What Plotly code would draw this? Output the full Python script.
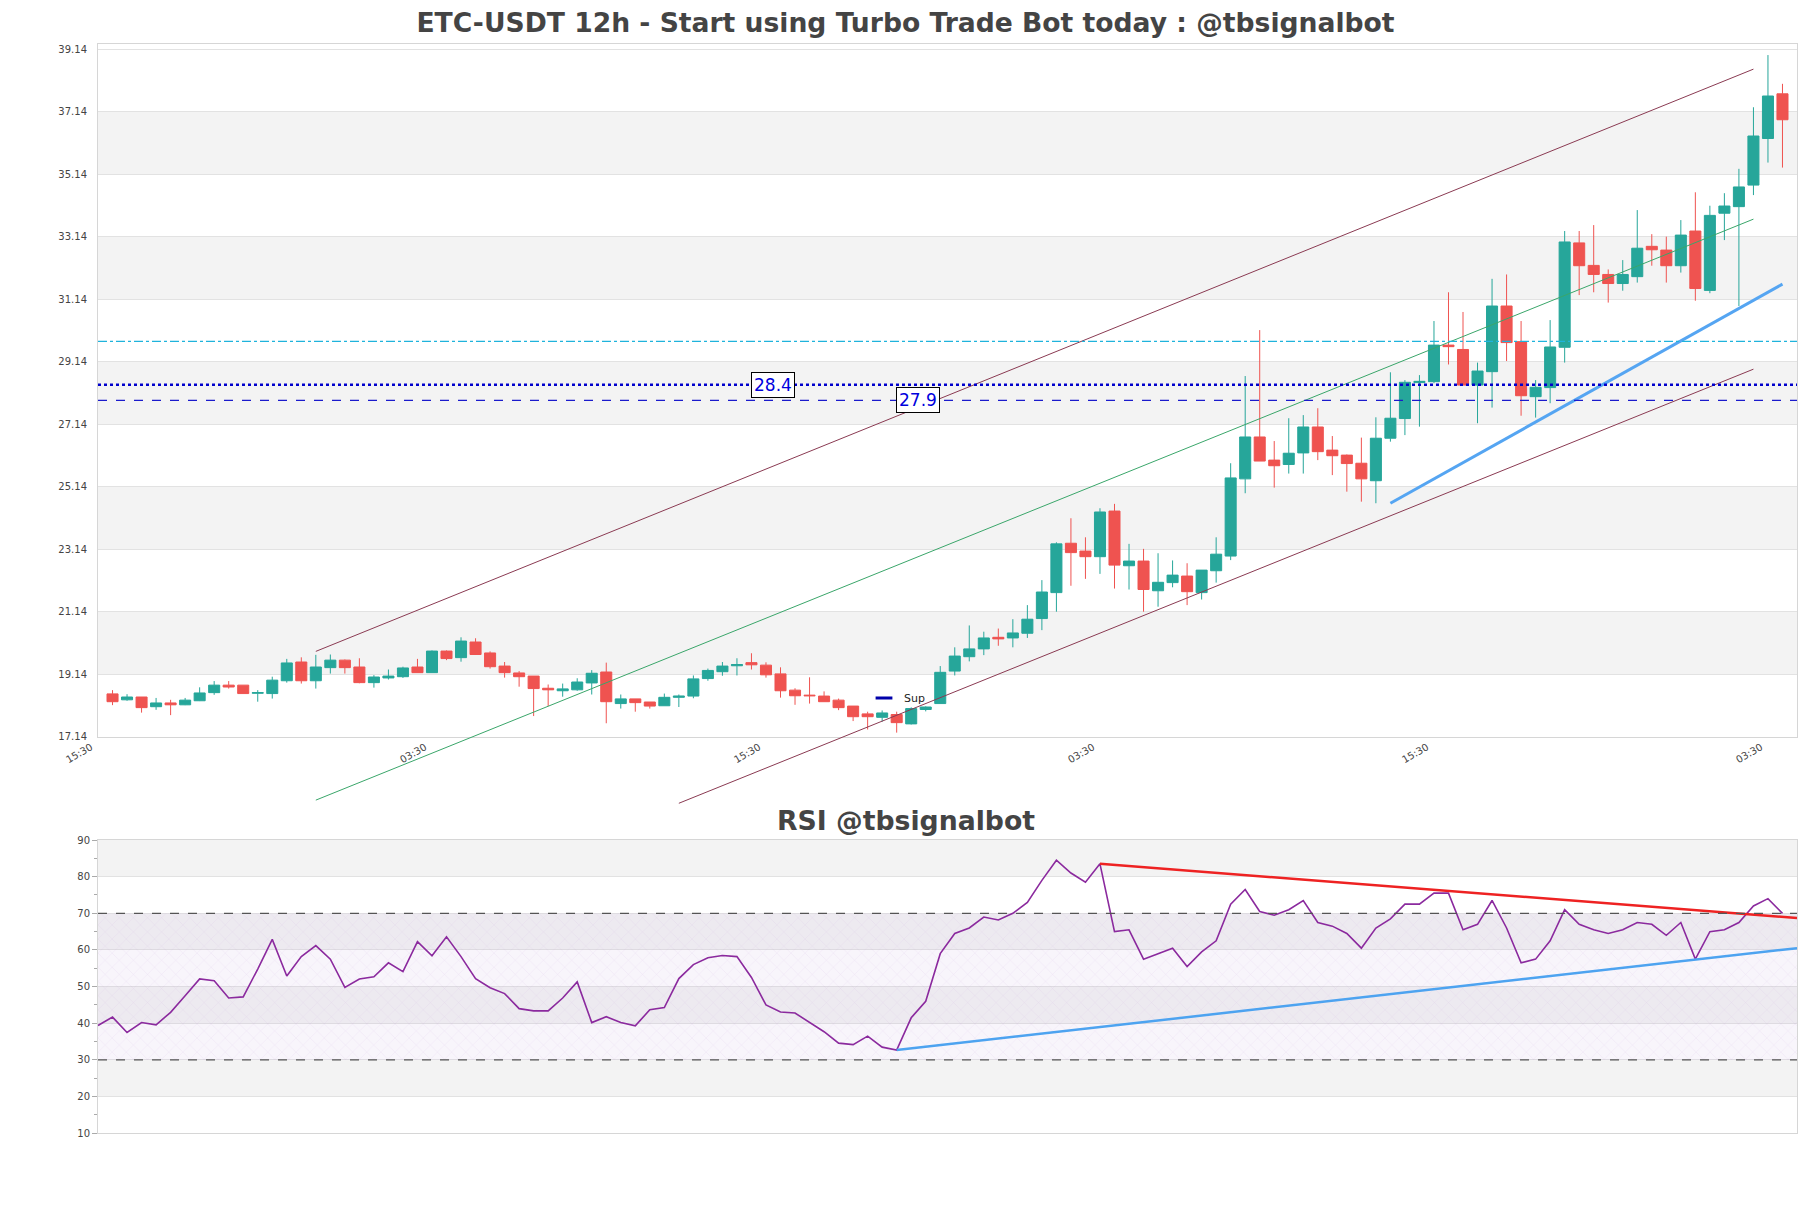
import plotly.graph_objects as go

# ---------------- data ----------------
candle_idx = list(range(116))
opens = [18.51,18.32,18.41,18.10,18.22,18.16,18.29,18.55,18.79,18.79,18.53,18.52,18.93,19.53,18.93,19.35,19.59,19.37,18.87,19.02,
         19.06,19.37,19.19,19.88,19.67,20.17,19.82,19.40,19.18,19.08,18.69,18.61,18.64,18.86,19.21,18.20,18.35,18.25,18.13,18.40,
         18.44,19.00,19.22,19.41,19.51,19.43,19.15,18.63,18.47,18.44,18.31,18.12,17.87,17.76,17.85,17.55,18.01,18.20,19.24,19.70,
         19.95,20.32,20.30,20.45,20.92,21.75,23.33,23.08,22.90,24.36,22.61,22.76,21.81,22.07,22.28,21.75,22.45,22.92,25.39,26.73,
         25.99,25.85,26.22,27.05,26.31,26.15,25.89,25.33,26.69,27.32,28.47,28.50,29.67,29.53,28.39,28.82,30.92,29.78,28.02,28.31,
         29.60,32.94,32.22,31.93,31.64,31.86,32.83,32.71,32.21,33.32,31.42,33.89,34.10,34.79,36.28,37.71]
highs = [18.63,18.50,18.41,18.38,18.32,18.38,18.72,18.92,18.92,18.79,18.63,19.06,19.63,19.68,19.76,19.77,19.61,19.65,19.11,19.29,
         19.38,19.63,19.90,19.90,20.32,20.29,19.87,19.53,19.24,19.08,18.81,18.84,19.01,19.27,19.51,18.49,18.35,18.25,18.52,18.49,
         19.10,19.32,19.53,19.65,19.81,19.52,19.36,18.69,19.04,18.59,18.36,18.12,17.94,17.98,17.94,18.08,18.11,19.40,20.00,20.70,
         20.50,20.60,20.90,21.35,22.15,23.36,24.13,23.52,24.45,24.59,23.31,23.15,23.01,22.78,22.69,22.47,23.52,25.89,28.68,30.15,
         26.60,27.33,27.43,27.65,26.76,26.17,26.71,27.36,28.80,28.55,28.71,30.44,31.36,30.73,29.11,31.79,31.93,30.44,28.55,30.47,
         33.32,33.32,33.51,32.09,32.39,33.99,33.22,33.14,33.67,34.56,34.13,34.53,35.31,37.28,38.95,38.03]
lows = [18.15,18.29,17.91,18.00,17.83,18.15,18.28,18.48,18.68,18.52,18.26,18.36,18.87,18.84,18.68,19.16,19.16,18.85,18.71,18.97,
        19.02,19.19,19.19,19.59,19.54,19.76,19.32,19.03,18.74,17.80,18.12,18.42,18.61,18.49,17.57,18.04,17.94,18.04,18.13,18.09,
        18.37,18.93,19.09,19.10,19.29,19.03,18.39,18.16,18.20,18.26,17.99,17.64,17.37,17.62,17.27,17.53,17.95,18.20,19.10,19.55,
        19.75,20.05,20.00,20.30,20.55,21.14,21.97,22.19,22.35,21.88,21.85,21.14,21.30,21.92,21.35,21.53,22.07,22.79,24.93,25.96,
        25.11,25.56,25.56,25.99,25.51,24.98,24.66,24.61,26.58,26.79,27.06,28.45,29.05,28.39,27.17,27.67,29.16,27.41,27.35,27.81,
        29.11,31.27,31.36,31.03,31.41,31.67,32.21,31.67,31.99,31.09,31.33,33.03,30.92,34.47,35.51,35.35]
closes = [18.26,18.41,18.07,18.22,18.16,18.31,18.54,18.79,18.73,18.52,18.55,18.95,19.50,18.93,19.37,19.59,19.35,18.87,19.05,19.08,
          19.34,19.19,19.88,19.64,20.20,19.77,19.38,19.19,19.06,18.68,18.64,18.67,18.89,19.17,18.26,18.35,18.23,18.12,18.40,18.44,
          18.99,19.26,19.40,19.45,19.44,19.12,18.61,18.45,18.45,18.26,18.07,17.78,17.78,17.90,17.59,18.04,18.09,19.20,19.72,19.95,
          20.30,20.27,20.46,20.90,21.77,23.31,23.03,22.90,24.33,22.63,22.76,21.85,22.08,22.31,21.78,22.47,22.98,25.42,26.73,25.96,
          25.81,26.21,27.05,26.26,26.13,25.88,25.39,26.69,27.33,28.48,28.51,29.67,29.62,28.39,28.84,30.92,29.75,28.05,28.32,29.61,
          32.97,32.21,31.93,31.64,31.93,32.77,32.72,32.21,33.19,31.48,33.82,34.12,34.73,36.36,37.64,36.88]

rsi_idx = list(range(-1, 116))
rsi = [39.4,41.7,37.5,40.2,39.6,43.0,47.5,52.1,51.6,46.9,47.2,54.8,62.9,52.9,58.2,61.2,57.5,49.8,52.1,52.7,
       56.5,54.1,62.3,58.4,63.6,58.2,52.2,49.7,48.1,44.0,43.4,43.4,46.9,51.3,40.2,41.8,40.2,39.3,43.7,44.3,
       52.2,56.0,57.9,58.5,58.2,52.5,45.0,43.1,42.8,40.2,37.7,34.6,34.2,36.5,33.5,32.7,41.5,46.0,59.0,64.5,
       66.0,69.0,68.2,70.0,73.0,79.0,84.5,81.0,78.5,83.5,65.0,65.5,57.5,59.0,60.5,55.5,59.5,62.5,72.5,76.5,
       70.5,69.5,71.0,73.5,67.5,66.5,64.5,60.5,66.0,68.5,72.5,72.5,75.5,75.5,65.5,67.0,73.5,66.0,56.5,57.5,
       62.5,71.0,67.0,65.5,64.5,65.5,67.5,67.0,64.0,67.5,57.5,65.0,65.5,67.5,72.0,74.0,70.0]

tick_vals = [-1, 22, 45, 68, 91, 114]
tick_text = ["15:30", "03:30", "15:30", "03:30", "15:30", "03:30"]

price_ticks = [17.14, 19.14, 21.14, 23.14, 25.14, 27.14, 29.14, 31.14, 33.14, 35.14, 37.14, 39.14]
price_range = [17.14, 39.32]
x_range = [-1, 116]

# channel lines (start idx, start price, end idx, end price)
channel_upper = [14, 19.87, 113, 38.50]
channel_mid = [14, 15.11, 113, 33.70]
channel_lower = [39, 15.01, 113, 28.90]
support_line = [88, 24.61, 115, 31.62]

level_cyan = 29.79
level_dot = 28.4
level_dash = 27.9
label_pos = {28.4: 45.5, 27.9: 55.5}

rsi_red = [68, 83.5, 116, 68.7]
rsi_blue = [54, 32.7, 116, 60.5]
rsi_levels = [30, 70]

# ---------------- layout geometry ----------------
OFF = 8                      # page body margin
W, H = 1811 - 2 * OFF, 1208 - 2 * OFF
ML = 98 - OFF
MR = W - (1797 - OFF)

def py(y_ref):
    return 1 - (y_ref - OFF) / H

main_dom = [py(736.7), py(43.5)]
rsi_dom = [py(1133.3), py(840)]
ghost_dom = [py(815), main_dom[1]]
span = price_range[1] - price_range[0]
ghost_lo = price_range[0] - (main_dom[0] - ghost_dom[0]) / (main_dom[1] - main_dom[0]) * span
ghost_range = [ghost_lo, price_range[1]]
plot_w = W - ML - MR

UP, DOWN = "#26a69a", "#ef5350"
BAND = "#f3f3f3"
GRID = "#e2e2e2"
FRAME = "#d6d6d6"
TICKFONT = dict(family="DejaVu Sans", size=10, color="#444")

fig = go.Figure()

fig.add_trace(go.Candlestick(
    x=candle_idx, open=opens, high=highs, low=lows, close=closes,
    increasing=dict(line=dict(color=UP, width=1), fillcolor=UP),
    decreasing=dict(line=dict(color=DOWN, width=1), fillcolor=DOWN),
    showlegend=False, xaxis="x", yaxis="y", hoverinfo="skip"))

def seg(line, color, width):
    return go.Scatter(x=[line[0], line[2]], y=[line[1], line[3]], mode="lines",
                      line=dict(color=color, width=width), showlegend=False,
                      xaxis="x", yaxis="y3", hoverinfo="skip")

fig.add_trace(seg(channel_upper, "#8a3a52", 1))
fig.add_trace(seg(channel_mid, "#3aa66a", 1))
fig.add_trace(seg(channel_lower, "#8a3a52", 1))
fig.add_trace(seg(support_line, "#55a5f2", 3))

# legend entry
fig.add_trace(go.Scatter(x=[None], y=[None], mode="markers", name="Sup",
                         marker=dict(symbol="line-ew", size=12, line=dict(color="#0000aa", width=3)),
                         xaxis="x", yaxis="y"))

# RSI hatch band
fig.add_trace(go.Scatter(x=[x_range[0], x_range[1], x_range[1], x_range[0], x_range[0]],
                         y=[rsi_levels[0], rsi_levels[0], rsi_levels[1], rsi_levels[1], rsi_levels[0]],
                         mode="lines", line=dict(width=0), fill="toself",
                         fillcolor="rgba(190,160,220,0.10)",
                         fillpattern=dict(shape="x", fgcolor="rgba(170,120,210,0.35)", size=10, solidity=0.08),
                         showlegend=False, xaxis="x2", yaxis="y2", hoverinfo="skip"))

fig.add_trace(go.Scatter(x=rsi_idx, y=rsi, mode="lines", line=dict(color="#8b2a9e", width=1.6),
                         showlegend=False, xaxis="x2", yaxis="y2", hoverinfo="skip"))
fig.add_trace(go.Scatter(x=[rsi_red[0], rsi_red[2]], y=[rsi_red[1], rsi_red[3]], mode="lines",
                         line=dict(color="#ee2222", width=2.5), showlegend=False, xaxis="x2", yaxis="y2"))
fig.add_trace(go.Scatter(x=[rsi_blue[0], rsi_blue[2]], y=[rsi_blue[1], rsi_blue[3]], mode="lines",
                         line=dict(color="#4da3f0", width=2.5), showlegend=False, xaxis="x2", yaxis="y2"))

shapes = []
for k in range(1, len(price_ticks) - 1, 2):
    shapes.append(dict(type="rect", xref="x domain", x0=0, x1=1, yref="y",
                       y0=price_ticks[k], y1=price_ticks[k + 1], fillcolor=BAND, line=dict(width=0), layer="below"))
for lo in [20, 40, 60, 80]:
    shapes.append(dict(type="rect", xref="x2 domain", x0=0, x1=1, yref="y2",
                       y0=lo, y1=lo + 10, fillcolor=BAND, line=dict(width=0), layer="below"))
shapes.append(dict(type="line", xref="x domain", x0=0, x1=1, yref="y", y0=level_cyan, y1=level_cyan,
                   line=dict(color="#1fb3dc", width=1.4, dash="dashdot")))
shapes.append(dict(type="line", xref="x domain", x0=0, x1=1, yref="y", y0=level_dot, y1=level_dot,
                   line=dict(color="#0000cc", width=2.5, dash="dot")))
shapes.append(dict(type="line", xref="x domain", x0=0, x1=1, yref="y", y0=level_dash, y1=level_dash,
                   line=dict(color="#1a1acc", width=1.2, dash="dash")))
for lv in rsi_levels:
    shapes.append(dict(type="line", xref="x2 domain", x0=0, x1=1, yref="y2", y0=lv, y1=lv,
                       line=dict(color="#555555", width=1.2, dash="dash")))

annotations = []
for lv, xp in label_pos.items():
    annotations.append(dict(x=xp, y=lv, xref="x", yref="y", text=str(lv), showarrow=False,
                            font=dict(family="DejaVu Sans", size=17, color="#0000dd"),
                            bgcolor="white", bordercolor="black", borderwidth=1, borderpad=2))
annotations.append(dict(x=(W / 2 - ML) / plot_w, y=py(820), xref="paper", yref="paper",
                        text="<b>RSI @tbsignalbot</b>", showarrow=False,
                        font=dict(family="DejaVu Sans", size=26.7, color="#444"),
                        xanchor="center", yanchor="middle"))

fig.update_layout(
    width=W, height=H,
    margin=dict(l=ML, r=MR, t=0, b=0, autoexpand=False),
    paper_bgcolor="white", plot_bgcolor="rgba(0,0,0,0)",
    title=dict(text="<b>ETC-USDT 12h - Start using Turbo Trade Bot today : @tbsignalbot</b>",
               x=0.5, xref="container", y=py(23), yref="container", xanchor="center", yanchor="middle",
               font=dict(family="DejaVu Sans", size=26.6, color="#444"), automargin=False),
    boxgap=0.2, boxgroupgap=0.05,
    showlegend=True,
    legend=dict(x=(864 - OFF - ML) / plot_w, y=py(698), xanchor="left", yanchor="middle",
                bgcolor="rgba(0,0,0,0)", font=dict(family="DejaVu Sans", size=11, color="#222"),
                itemwidth=30),
    shapes=shapes, annotations=annotations,
    xaxis=dict(domain=[0, 1], range=x_range, anchor="y", tickmode="array", tickvals=tick_vals,
               ticktext=tick_text, tickangle=-30, tickfont=TICKFONT, ticklabelshift=-7,
               showgrid=False, zeroline=False, automargin=False,
               showline=True, mirror=True, linecolor=FRAME, rangeslider=dict(visible=False), ticks=""),
    yaxis=dict(domain=main_dom, range=price_range, tickmode="array", tickvals=price_ticks,
               ticktext=[f"{v:.2f}" for v in price_ticks], tickfont=TICKFONT, showgrid=True, gridcolor=GRID,
               zeroline=False, showline=True, mirror=True, linecolor=FRAME, ticks="", ticklabelstandoff=8,
               anchor="x", automargin=False),
    yaxis3=dict(domain=ghost_dom, range=ghost_range, visible=False, anchor="x", showgrid=False,
                automargin=False),
    xaxis2=dict(domain=[0, 1], range=x_range, anchor="y2", showticklabels=False, showgrid=False,
                zeroline=False, showline=True, mirror=True, linecolor=FRAME, ticks="", automargin=False),
    yaxis2=dict(domain=rsi_dom, range=[10, 90], dtick=10, tick0=10, tickfont=TICKFONT, showgrid=True,
                gridcolor=GRID, zeroline=False, showline=True, mirror=True, linecolor=FRAME,
                ticks="outside", ticklen=5, tickcolor="#aaa", automargin=False,
                minor=dict(dtick=5, ticklen=3, tickcolor="#aaa", showgrid=False), anchor="x2"),
)

fig.write_html("out.html")
